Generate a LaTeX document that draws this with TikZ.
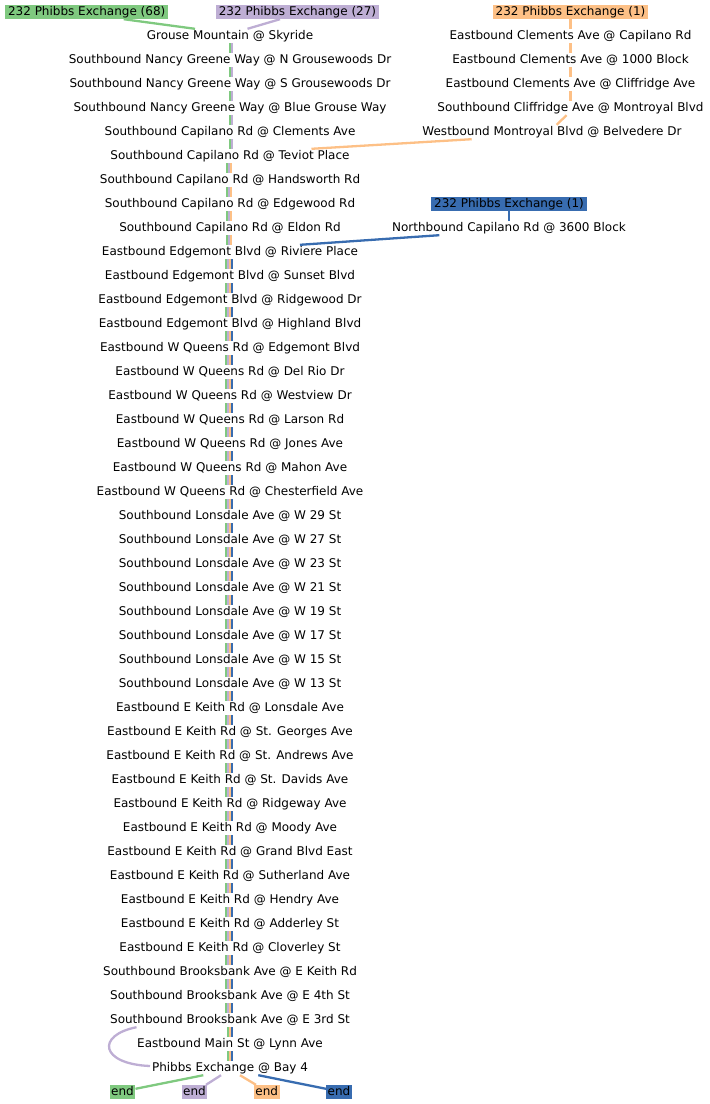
\documentclass[tikz,border=0pt]{standalone}
\usepackage{fontspec}
\setmainfont{DejaVu Sans}
\definecolor{cg}{HTML}{7FC97F}
\definecolor{cp}{HTML}{BEAED4}
\definecolor{co}{HTML}{FDC086}
\definecolor{cb}{HTML}{386CB0}
\tikzset{
  stopbox/.style={fill=white, inner xsep=2pt, inner ysep=1pt, text height=9pt, text depth=3pt, font=\fontsize{12}{14}\selectfont},
  headbox/.style={stopbox, inner xsep=3pt},
  endbox/.style={stopbox, inner xsep=1.5pt},
  rl/.style={line width=2.3pt},
}
\begin{document}
\begin{tikzpicture}[x=1pt,y=-1pt]
\useasboundingbox (0,0) rectangle (710,1104);
% heads
\node[headbox, fill=cg] (g68) at (86.7,12) {232 Phibbs Exchange (68)};
\node[headbox, fill=cp] (p27) at (297.5,12) {232 Phibbs Exchange (27)};
\node[headbox, fill=co] (o1) at (570.5,12) {232 Phibbs Exchange (1)};
\node[headbox, fill=cb] (b1) at (509,204) {232 Phibbs Exchange (1)};
% central column
\foreach \t [count=\i from 0] in {
Grouse Mountain @ Skyride,
Southbound Nancy Greene Way @ N Grousewoods Dr,
Southbound Nancy Greene Way @ S Grousewoods Dr,
Southbound Nancy Greene Way @ Blue Grouse Way,
Southbound Capilano Rd @ Clements Ave,
Southbound Capilano Rd @ Teviot Place,
Southbound Capilano Rd @ Handsworth Rd,
Southbound Capilano Rd @ Edgewood Rd,
Southbound Capilano Rd @ Eldon Rd,
Eastbound Edgemont Blvd @ Riviere Place,
Eastbound Edgemont Blvd @ Sunset Blvd,
Eastbound Edgemont Blvd @ Ridgewood Dr,
Eastbound Edgemont Blvd @ Highland Blvd,
Eastbound W Queens Rd @ Edgemont Blvd,
Eastbound W Queens Rd @ Del Rio Dr,
Eastbound W Queens Rd @ Westview Dr,
Eastbound W Queens Rd @ Larson Rd,
Eastbound W Queens Rd @ Jones Ave,
Eastbound W Queens Rd @ Mahon Ave,
Eastbound W Queens Rd @ Chesterfield Ave,
Southbound Lonsdale Ave @ W 29 St,
Southbound Lonsdale Ave @ W 27 St,
Southbound Lonsdale Ave @ W 23 St,
Southbound Lonsdale Ave @ W 21 St,
Southbound Lonsdale Ave @ W 19 St,
Southbound Lonsdale Ave @ W 17 St,
Southbound Lonsdale Ave @ W 15 St,
Southbound Lonsdale Ave @ W 13 St,
Eastbound E Keith Rd @ Lonsdale Ave,
Eastbound E Keith Rd @ St. Georges Ave,
Eastbound E Keith Rd @ St. Andrews Ave,
Eastbound E Keith Rd @ St. Davids Ave,
Eastbound E Keith Rd @ Ridgeway Ave,
Eastbound E Keith Rd @ Moody Ave,
Eastbound E Keith Rd @ Grand Blvd East,
Eastbound E Keith Rd @ Sutherland Ave,
Eastbound E Keith Rd @ Hendry Ave,
Eastbound E Keith Rd @ Adderley St,
Eastbound E Keith Rd @ Cloverley St,
Southbound Brooksbank Ave @ E Keith Rd,
Southbound Brooksbank Ave @ E 4th St,
Southbound Brooksbank Ave @ E 3rd St,
Eastbound Main St @ Lynn Ave,
Phibbs Exchange @ Bay 4}
  \node[stopbox] (s\i) at (230,{36+24*\i}) {\t};
% right column
\node[stopbox] (r1) at (570.5,36) {Eastbound Clements Ave @ Capilano Rd};
\node[stopbox] (r2) at (570.5,60) {Eastbound Clements Ave @ 1000 Block};
\node[stopbox] (r3) at (570.5,84) {Eastbound Clements Ave @ Cliffridge Ave};
\node[stopbox] (r4) at (570.5,108) {Southbound Cliffridge Ave @ Montroyal Blvd};
\node[stopbox] (r5) at (552,132) {Westbound Montroyal Blvd @ Belvedere Dr};
\node[stopbox] (n1) at (509,228) {Northbound Capilano Rd @ 3600 Block};
% ends
\node[endbox, fill=cg] (ge) at (122.5,1092) {end};
\node[endbox, fill=cp] (pe) at (194.5,1092) {end};
\node[endbox, fill=co] (oe) at (266.7,1092) {end};
\node[endbox, fill=cb] (be) at (339,1092) {end};
% top connectors
\draw[rl,cg] ([xshift=37pt]g68.south) -- ([xshift=-35pt]s0.north);
\draw[rl,cp] ([xshift=-17.5pt]p27.south) -- ([xshift=17.5pt]s0.north);
\draw[rl,co] (o1.south) -- (r1.north);
\draw[rl,co] (r1.south) -- (r2.north);
\draw[rl,co] (r2.south) -- (r3.north);
\draw[rl,co] (r3.south) -- (r4.north);
\draw[rl,co] ([xshift=-4pt]r4.south) -- ([xshift=4.7pt]r5.north);
\draw[rl,co] ([xshift=-80.3pt]r5.south) -- ([xshift=81.5pt]s5.north);
\draw[rl,cb] (b1.south) -- (n1.north);
\draw[rl,cb] ([xshift=-69.7pt]n1.south) -- ([xshift=70pt]s9.north);
% central trunk
\foreach \k [evaluate=\k as \n using int(\k+1)] in {0,...,4} {
  \draw[rl,cg] ([xshift=0pt]s\k.south) -- ([xshift=0pt]s\n.north);
  \draw[rl,cp] ([xshift=2pt]s\k.south) -- ([xshift=2pt]s\n.north);
}
\foreach \k [evaluate=\k as \n using int(\k+1)] in {5,...,8} {
  \draw[rl,cg] ([xshift=-3pt]s\k.south) -- ([xshift=-3pt]s\n.north);
  \draw[rl,cp] ([xshift=-1pt]s\k.south) -- ([xshift=-1pt]s\n.north);
  \draw[rl,co] ([xshift=1pt]s\k.south) -- ([xshift=1pt]s\n.north);
}
\foreach \k [evaluate=\k as \n using int(\k+1)] in {9,...,40} {
  \draw[rl,cg] ([xshift=-4pt]s\k.south) -- ([xshift=-4pt]s\n.north);
  \draw[rl,cp] ([xshift=-2pt]s\k.south) -- ([xshift=-2pt]s\n.north);
  \draw[rl,co] ([xshift=0pt]s\k.south) -- ([xshift=0pt]s\n.north);
  \draw[rl,cb] ([xshift=2pt]s\k.south) -- ([xshift=2pt]s\n.north);
}
\foreach \k [evaluate=\k as \n using int(\k+1)] in {41,42} {
  \draw[rl,cg] ([xshift=-2pt]s\k.south) -- ([xshift=-2pt]s\n.north);
  \draw[rl,co] ([xshift=0pt]s\k.south) -- ([xshift=0pt]s\n.north);
  \draw[rl,cb] ([xshift=2pt]s\k.south) -- ([xshift=2pt]s\n.north);
}
% purple bypass
\draw[rl,cp] ([xshift=-93.5pt]s41.south) .. controls +(-40.5,8) and +(-50,-2) .. ([xshift=-80pt,yshift=2pt]s43.center);
% bottom connectors
\draw[rl,cg] ([xshift=-26.7pt]s43.south) -- ([yshift=3.2pt]ge.east);
\draw[rl,cp] ([xshift=-9pt]s43.south) -- ([xshift=11.5pt]pe.north);
\draw[rl,co] ([xshift=10pt]s43.south) -- ([xshift=-10.7pt]oe.north);
\draw[rl,cb] ([xshift=28.3pt]s43.south) -- ([yshift=3.2pt]be.west);
\end{tikzpicture}
\end{document}
